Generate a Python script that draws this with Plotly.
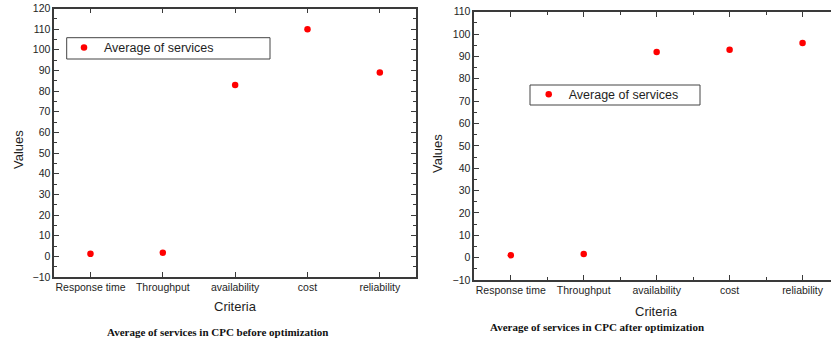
import plotly.graph_objects as go

categories = ["Response time", "Throughput", "availability", "cost", "reliability"]
before_values = [1.2, 1.7, 83, 110, 89]
after_values = [1.1, 1.6, 92, 93, 96]
series_name = "Average of services"
caption_before = "Average of services in CPC before optimization"
caption_after = "Average of services in CPC after optimization"

W, H = 831, 345
FONT = "Liberation Sans, Arial, sans-serif"
AX = "#3a3a3a"
TXT = "#1e1e1e"

def px(x):
    return x / W

def py(y):
    return (H - y) / H

x_pos = list(range(len(categories)))

fig = go.Figure()
fig.add_trace(go.Scatter(x=x_pos, y=before_values, mode="markers", name=series_name,
                         marker=dict(color="#ff0000", size=6.5), xaxis="x", yaxis="y",
                         legend="legend", cliponaxis=False))
fig.add_trace(go.Scatter(x=x_pos, y=after_values, mode="markers", name=series_name,
                         marker=dict(color="#ff0000", size=6.5), xaxis="x2", yaxis="y2",
                         legend="legend2", cliponaxis=False))

common_x = dict(tickvals=x_pos, ticktext=categories, showline=True, linecolor=AX, linewidth=1.6,
                ticks="inside", ticklen=5, tickcolor=AX, tickwidth=1.3, showgrid=False,
                zeroline=False, automargin=False, tickfont=dict(family=FONT, size=10.5, color=TXT))
common_y = dict(dtick=10, showline=True, linecolor=AX, linewidth=1.6,
                ticks="inside", ticklen=5, tickcolor=AX, tickwidth=1.3, showgrid=False,
                zeroline=False, automargin=False, tickfont=dict(family=FONT, size=10.5, color=TXT),
                minor=dict(dtick=5, tick0=0, ticks="inside", ticklen=3, tickcolor=AX, tickwidth=1))

fig.update_layout(
    width=W, height=H, margin=dict(l=0, r=0, t=0, b=0, autoexpand=False),
    paper_bgcolor="white", plot_bgcolor="white",
    xaxis=dict(common_x, domain=[px(54.3), px(416)], range=[-0.5, 4.5], mirror="ticks", anchor="y"),
    yaxis=dict(common_y, domain=[py(277), py(8.5)], range=[-10, 120], mirror="ticks", anchor="x"),
    xaxis2=dict(common_x, domain=[px(474.3), 1.0], range=[-0.5, 4.39], mirror="ticks", anchor="y2",
                minor=dict(tickvals=[0.5, 1.5, 2.5, 3.5], ticks="inside", ticklen=3, tickcolor=AX, tickwidth=1)),
    yaxis2=dict(common_y, domain=[py(280), py(11.7)], range=[-10, 110], mirror=False, anchor="x2"),
    showlegend=True,
    legend=dict(x=px(64), y=py(32.8), xanchor="left", yanchor="top", xref="paper", yref="paper",
                borderwidth=0, bgcolor="rgba(0,0,0,0)",
                font=dict(family=FONT, size=12.5, color=TXT)),
    legend2=dict(x=px(528.7), y=py(79.5), xanchor="left", yanchor="top", xref="paper", yref="paper",
                 borderwidth=0, bgcolor="rgba(0,0,0,0)",
                 font=dict(family=FONT, size=12.5, color=TXT)),
)

shapes = [
    dict(type="rect", xref="paper", yref="paper", x0=px(66.7), x1=px(270), y0=py(59), y1=py(37.7),
         line=dict(color="#444444", width=1), fillcolor="white", layer="below"),
    dict(type="rect", xref="paper", yref="paper", x0=px(530), x1=px(700), y0=py(105), y1=py(85),
         line=dict(color="#444444", width=1), fillcolor="white", layer="below"),
]
fig.update_layout(shapes=shapes)

annotations = [
    dict(text="Values", x=px(18), y=py(150), textangle=-90, font=dict(family=FONT, size=13, color=TXT)),
    dict(text="Values", x=px(437), y=py(153), textangle=-90, font=dict(family=FONT, size=13, color=TXT)),
    dict(text="Criteria", x=px(235), y=py(306.7), font=dict(family=FONT, size=13, color=TXT)),
    dict(text="Criteria", x=px(656), y=py(311.7), font=dict(family=FONT, size=13, color=TXT)),
    dict(text="<b>" + caption_before + "</b>", x=px(217.5), y=py(332),
         font=dict(family="Liberation Serif, Times New Roman, serif", size=11, color="#111111")),
    dict(text="<b>" + caption_after + "</b>", x=px(597), y=py(327),
         font=dict(family="Liberation Serif, Times New Roman, serif", size=11, color="#111111")),
]
for a in annotations:
    a.update(xref="paper", yref="paper", showarrow=False, xanchor="center", yanchor="middle")
fig.update_layout(annotations=annotations)

fig.write_html("out.html", config={"displayModeBar": False},
               post_script="document.body.style.margin='0';document.body.style.overflow='hidden';")
